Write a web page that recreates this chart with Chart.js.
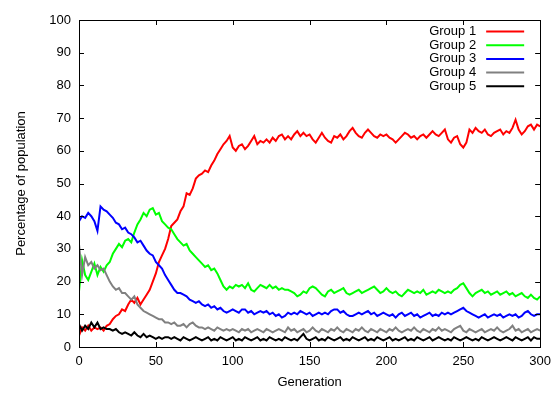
<!DOCTYPE html>
<html>
<head>
<meta charset="utf-8">
<script src="https://cdn.jsdelivr.net/npm/chart.js@4/dist/chart.umd.min.js"></script>
<style>
    html, body { margin: 0; padding: 0; background: #ffffff; }
    #wrap { width: 558px; height: 393px; }
</style>
</head>
<body>
<div id="wrap"><canvas id="chart" width="558" height="393"></canvas></div>
<script>
// generations (every 2nd)
const generations = [
    0, 2, 4, 6, 8, 10, 12, 14, 16, 18,
    20, 22, 24, 26, 28, 30, 32, 34, 36, 38,
    40, 42, 44, 46, 48, 50, 52, 54, 56, 58,
    60, 62, 64, 66, 68, 70, 72, 74, 76, 78,
    80, 82, 84, 86, 88, 90, 92, 94, 96, 98,
    100, 102, 104, 106, 108, 110, 112, 114, 116, 118,
    120, 122, 124, 126, 128, 130, 132, 134, 136, 138,
    140, 142, 144, 146, 148, 150, 152, 154, 156, 158,
    160, 162, 164, 166, 168, 170, 172, 174, 176, 178,
    180, 182, 184, 186, 188, 190, 192, 194, 196, 198,
    200, 202, 204, 206, 208, 210, 212, 214, 216, 218,
    220, 222, 224, 226, 228, 230, 232, 234, 236, 238,
    240, 242, 244, 246, 248, 250, 252, 254, 256, 258,
    260, 262, 264, 266, 268, 270, 272, 274, 276, 278,
    280, 282, 284, 286, 288, 290, 292, 294, 296, 298,
    300
];

const group1 = [
    3.5, 6, 5, 6.5, 5, 6, 5.5, 6, 5, 6.5,
    7, 8.5, 9.5, 10, 11.5, 11, 13, 14.5, 13.5, 15,
    13, 14.5, 16, 17.5, 20, 22.5, 26, 28, 30, 33,
    37, 38, 39, 41.5, 43, 47, 46.5, 48.5, 51.5, 52.5,
    53, 54, 53.5, 55.5, 57, 59, 60.5, 62, 63, 64.5,
    61, 60, 61.5, 62, 60.5, 61.5, 63, 64.5, 62, 63,
    62.5, 63.5, 62.5, 64, 63, 64.5, 65, 63.5, 64.5, 63.5,
    65, 66, 64.5, 65.5, 64.5, 65, 63.5, 62.5, 64, 65.5,
    64, 63, 62.5, 64.5, 64, 65, 63.5, 64.5, 66, 67,
    65.5, 64.5, 64, 65.5, 66.5, 65.5, 64.5, 64, 65, 64.5,
    65, 64, 63.5, 62.5, 63.5, 64.5, 65.5, 65, 64, 64.5,
    63.5, 64.5, 65, 64, 65, 66, 65, 64.5, 65.5, 66.5,
    63.5, 62.5, 64, 64.5, 62, 61, 62.5, 66.5, 65.5, 67,
    66, 65.5, 66.5, 65, 64.5, 65.5, 66, 66.5, 65, 66,
    65.5, 67, 69.5, 66.5, 65, 66, 67.5, 68, 66.5, 68,
    67.5
];

const group2 = [
    17, 26.5, 22, 20.5, 23, 25.5, 22, 24.5, 23, 25,
    26, 28.5, 30, 31.5, 30.5, 32.5, 33, 32, 35, 37.5,
    39, 41, 40, 42, 42.5, 40.5, 41, 38.5, 37.5, 36.5,
    36, 34.5, 33, 32, 31, 31.5, 29.5, 28.5, 27.5, 26.5,
    25.5, 24.5, 25, 23.5, 24, 22.5, 20.5, 18.5, 17.5, 18.5,
    18, 19, 18.5, 19, 18, 19.5, 17.5, 17, 18, 19,
    18.5, 18, 19, 18, 18.5, 17.5, 18, 17.5, 17.5, 17,
    16.5, 15.5, 16, 17, 16.5, 18, 18.5, 18, 17, 16,
    15.5, 17, 17.5, 16.5, 17, 17.5, 18, 16.5, 16, 16.5,
    17, 17.5, 16.5, 17, 17.5, 18, 18.5, 17.5, 16.5, 17,
    18, 17, 16.5, 17, 16, 15.5, 16.5, 17.5, 17, 16.5,
    17, 16.5, 17.5, 16, 16.5, 17, 16.5, 17.5, 17, 16.5,
    17, 16.5, 17.5, 18, 19, 19.5, 18, 16.5, 15.5, 16.5,
    17, 17.5, 16.5, 17, 16, 16.5, 17, 16, 16.5, 17,
    16, 16.5, 15.5, 16, 16.5, 15.5, 15, 16, 15, 14.5,
    15.5
];

const group3 = [
    38.5, 40, 39.5, 41, 40, 38.5, 35.5, 43, 42, 41.5,
    40.5, 39.5, 38, 37.5, 36, 36.5, 35, 34.5, 33.5, 32,
    32.5, 31, 29.5, 28.5, 28, 26, 25, 24, 22, 20.5,
    19, 17.5, 16.5, 16.5, 16, 15.5, 14.5, 14, 13.5, 14,
    13, 12.5, 13, 12, 12.5, 11.5, 12, 11, 10.5, 11,
    11.5, 11, 10.5, 11.5, 11.5, 10.5, 11, 10, 10.5, 11,
    10.5, 11, 10, 10.5, 9.5, 10, 9, 9.5, 10.5, 10,
    10.5, 10, 11, 10.5, 10, 10.5, 9.5, 10, 10.5, 10,
    10.5, 10, 11, 11.5, 11.5, 10.5, 11, 10, 9.5, 9.5,
    10, 10.5, 10, 10.5, 11, 10, 10.5, 9.5, 10, 10.5,
    10, 9.5, 10, 9, 10, 10.5, 9.5, 10, 10.5, 9.5,
    10, 9, 9.5, 10, 10.5, 9.5, 10, 9.5, 10.5, 10,
    10.5, 10, 10.5, 11, 11.5, 12, 11, 10.5, 10, 9.5,
    9, 9.5, 10, 9, 9.5, 10, 9.5, 10, 9, 9.5,
    10, 9.5, 10, 9, 9.5, 10.5, 11, 10, 9.5, 10,
    10
];

const group4 = [
    31.5, 22, 27.5, 25, 26, 24, 25, 23.5, 24, 22,
    20, 18.5, 17.5, 18, 16.5, 16.5, 15.5, 14.5, 15.5, 13,
    12, 11, 10.5, 10, 9.5, 9, 8.5, 8.5, 7.5, 7.5,
    7, 7.5, 6.5, 6.5, 7, 6, 7, 7.5, 6.5, 6,
    6, 5.5, 6, 5.5, 5, 6, 5.5, 5, 5.5, 5,
    5.5, 5, 4.5, 5.5, 5, 5.5, 4.5, 5, 5.5, 5,
    4.5, 5.5, 5, 4.5, 5, 5.5, 5, 4.5, 6, 5,
    5.5, 4.5, 5, 5.5, 4.5, 5, 6, 5, 4.5, 5.5,
    5, 4.5, 5.5, 5, 6, 5, 4.5, 5.5, 5, 4.5,
    5.5, 5, 6, 5, 4.5, 5.5, 5, 4.5, 5.5, 5,
    4.5, 5.5, 5, 6, 5, 4.5, 5, 5.5, 5, 6,
    5, 4.5, 5.5, 5, 4.5, 5.5, 5, 6, 5, 5.5,
    5, 4.5, 5.5, 6, 6.5, 5, 4.5, 5.5, 5, 4.5,
    5, 5.5, 4.5, 5, 5.5, 5, 6, 5, 4.5, 5,
    5.5, 6.5, 5, 5.5, 4.5, 5, 5.5, 4.5, 5, 5.5,
    5
];

const group5 = [
    7, 5, 6.5, 5.5, 7.5, 6, 7.5, 5.5, 6, 5.5,
    5.5, 5, 5.5, 4.5, 4, 4.5, 4, 3.5, 4.5, 3.5,
    3, 4, 3, 3.5, 3, 2.5, 3, 2.5, 3, 3,
    2.5, 3, 2.5, 2, 3, 2.5, 2, 2.5, 3, 2.5,
    2, 2.5, 3, 2, 2.5, 2, 3, 2.5, 2, 2.5,
    3, 2, 2.5, 2, 3, 2.5, 2, 2.5, 3, 2,
    2.5, 2, 3, 2.5, 2, 2.5, 2, 3, 2.5, 2,
    2.5, 2, 3, 4, 2.5, 2, 2.5, 3, 2, 2.5,
    2, 3, 2.5, 2, 2.5, 3, 2, 2.5, 2, 3,
    2.5, 2, 2.5, 3, 2, 2.5, 2, 3, 2.5, 2,
    2.5, 3, 2, 2.5, 2, 2.5, 3, 2, 2.5, 2,
    3, 2.5, 2, 2.5, 3, 2, 2.5, 3, 2.5, 2,
    2.5, 2, 3, 2.5, 2, 2.5, 3, 2.5, 2, 2.5,
    2, 3, 2.5, 2, 2.5, 3, 2.5, 2, 2.5, 3,
    2.5, 2, 3, 2.5, 2, 2.5, 3, 2, 3, 2.5,
    2.5
];

const seriesNames  = [ 'Group 1', 'Group 2', 'Group 3', 'Group 4', 'Group 5' ];
const seriesColors = [ '#ff0000', '#00ff00', '#0000ff', '#808080', '#000000' ];
const seriesValues = [ group1, group2, group3, group4, group5 ];

const xTicks = [ 0, 50, 100, 150, 200, 250, 300 ];
const yTicks = [ 0, 10, 20, 30, 40, 50, 60, 70, 80, 90, 100 ];

const FONT = '"Liberation Sans", Arial, Helvetica, sans-serif';

function toPoints( values )
{
    return values.map( ( v, i ) => ({ x : generations[ i ], y : v }) );
}

// gnuplot style: closed border, ticks pointing inward on all four sides
const borderPlugin = {
    id : 'gnuBorder',
    afterDatasetsDraw( chart )
    {
        const ctx = chart.ctx;
        const a = chart.chartArea;
        const xs = chart.scales.x;
        const ys = chart.scales.y;
        const len = 5;
        ctx.save();
        ctx.strokeStyle = '#000000';
        ctx.lineWidth = 1;
        ctx.beginPath();
        xTicks.forEach( t => {
            const px = Math.round( xs.getPixelForValue( t ) ) + 0.5;
            ctx.moveTo( px, a.bottom );
            ctx.lineTo( px, a.bottom - len );
            ctx.moveTo( px, a.top );
            ctx.lineTo( px, a.top + len );
        });
        yTicks.forEach( t => {
            const py = Math.round( ys.getPixelForValue( t ) ) + 0.5;
            ctx.moveTo( a.left, py );
            ctx.lineTo( a.left + len, py );
            ctx.moveTo( a.right, py );
            ctx.lineTo( a.right - len, py );
        });
        ctx.stroke();
        ctx.strokeRect( Math.round( a.left ) + 0.5, Math.round( a.top ) + 0.5,
            Math.round( a.right - a.left ), Math.round( a.bottom - a.top ) );
        ctx.restore();
    }
};

// legend: text right aligned, line sample after it
const keyPlugin = {
    id : 'gnuKey',
    afterDraw( chart )
    {
        const ctx = chart.ctx;
        const a = chart.chartArea;
        const lineEnd = a.right - 16;
        const lineStart = lineEnd - 38;
        const textEnd = lineStart - 10;
        ctx.save();
        ctx.font = '13px ' + FONT;
        ctx.textAlign = 'right';
        ctx.textBaseline = 'middle';
        chart.data.datasets.forEach( ( ds, i ) => {
            const y = a.top + 11.5 + i * 13.7;
            ctx.fillStyle = '#000000';
            ctx.fillText( ds.label, textEnd, y );
            ctx.strokeStyle = ds.borderColor;
            ctx.lineWidth = 2;
            ctx.beginPath();
            ctx.moveTo( lineStart, y );
            ctx.lineTo( lineEnd, y );
            ctx.stroke();
        });
        ctx.restore();
    }
};

const datasets = seriesValues.map( ( vals, i ) => ({
    label       : seriesNames[ i ],
    data        : toPoints( vals ),
    borderColor : seriesColors[ i ],
    borderWidth : 2,
    pointRadius : 0,
    tension     : 0,
    fill        : false,
    order       : seriesValues.length - 1 - i,   // later groups drawn on top
}));

new Chart( document.getElementById( 'chart' ), {
    type : 'line',
    data : { datasets : datasets },
    options : {
        responsive : false,
        animation  : false,
        devicePixelRatio : 1,
        layout : { padding : { top : 20, right : 16, left : 0, bottom : 0 } },
        plugins : {
            legend  : { display : false },
            tooltip : { enabled : false },
        },
        scales : {
            x : {
                type : 'linear',
                min  : 0,
                max  : 300,
                afterBuildTicks( scale ) { scale.ticks = xTicks.map( v => ({ value : v }) ); },
                afterFit( scale ) { scale.height = 46; },
                grid   : { display : false, drawTicks : false },
                border : { display : false },
                ticks  : { color : '#000000', padding : 7, maxRotation : 0, font : { family : FONT, size : 13 } },
                title  : {
                    display : true,
                    text    : 'Generation',
                    color   : '#000000',
                    padding : { top : 3, bottom : 3 },
                    font    : { family : FONT, size : 13 },
                },
            },
            y : {
                min : 0,
                max : 100,
                afterBuildTicks( scale ) { scale.ticks = yTicks.map( v => ({ value : v }) ); },
                afterFit( scale ) { scale.width = 79; },
                grid   : { display : false, drawTicks : false },
                border : { display : false },
                ticks  : { color : '#000000', padding : 8, font : { family : FONT, size : 13 } },
                title  : {
                    display : true,
                    text    : 'Percentage of population',
                    color   : '#000000',
                    padding : { top : 14, bottom : 14 },
                    font    : { family : FONT, size : 13 },
                },
            },
        },
    },
    plugins : [ borderPlugin, keyPlugin ],
});
</script>
</body>
</html>
